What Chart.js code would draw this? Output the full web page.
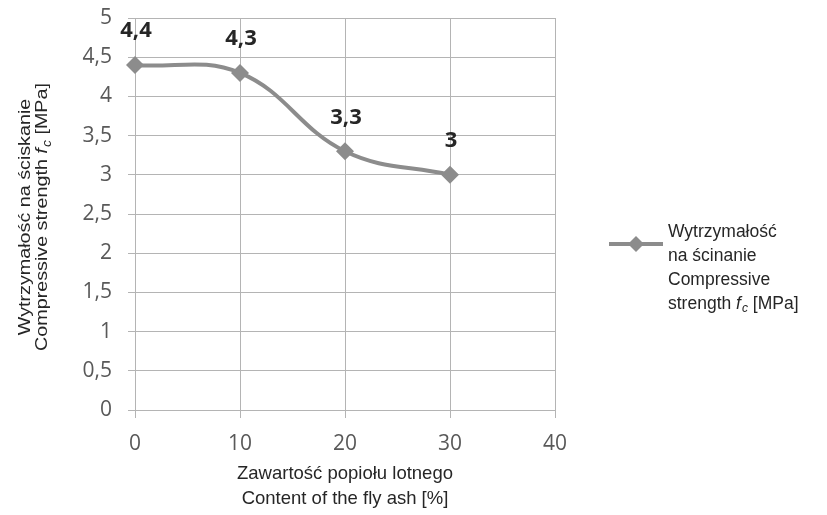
<!DOCTYPE html>
<html>
<head>
<meta charset="utf-8">
<script src="https://cdn.jsdelivr.net/npm/chart.js@4/dist/chart.umd.min.js"></script>
<style>
html,body{margin:0;padding:0;background:#fff;}
#wrap{width:827px;height:515px;}
</style>
</head>
<body>
<div id="wrap"><canvas id="c" width="827" height="515"></canvas></div>
<script>
const ashContent = [0, 10, 20, 30];
const strength = [4.4, 4.3, 3.3, 3];
const xTicks = [0, 10, 20, 30, 40];
const yTicks = [0, 0.5, 1, 1.5, 2, 2.5, 3, 3.5, 4, 4.5, 5];
const seriesName = ['Wytrzymałość', 'na ścinanie', 'Compressive', 'strength f_c [MPa]'];
const yTitle = ['Wytrzymałość na ściskanie', 'Compressive strength f_c [MPa]'];
const xTitle = ['Zawartość popiołu lotnego', 'Content of the fly ash [%]'];

const LINE = '#8c8c8c';
const GRID = '#b4b4b4';
const TXT = '#262626';
const TFONT = '"Liberation Sans", Arial, sans-serif';

function fmt(v){ return String(v).replace('.', ','); }

function segs(str){
  const out = [];
  const i = str.indexOf('f_c');
  if (i < 0) { out.push({t:str}); return out; }
  out.push({t:str.slice(0,i)});
  out.push({t:'f', it:true});
  out.push({t:'c', it:true, sub:true});
  out.push({t:str.slice(i+3)});
  return out;
}
function fontFor(s, size){
  const sz = s.sub ? Math.round(size*0.7) : size;
  return (s.it ? 'italic ' : '') + sz + 'px ' + TFONT;
}
function richWidth(ctx, parts, size){
  let w = 0;
  for (const s of parts){ ctx.font = fontFor(s,size); w += ctx.measureText(s.t).width + (s.it && !s.sub ? 1 : 0); }
  return w;
}
function drawRich(ctx, str, x, y, size, align){
  const parts = segs(str);
  const w = richWidth(ctx, parts, size);
  let cx = align === 'center' ? x - w/2 : x;
  ctx.textAlign = 'left';
  ctx.textBaseline = 'middle';
  for (const s of parts){
    ctx.font = fontFor(s,size);
    ctx.fillText(s.t, cx, y + (s.sub ? size*0.28 : 0));
    cx += ctx.measureText(s.t).width + (s.it && !s.sub ? 1 : 0);
  }
}

const decor = {
  id:'decor',
  afterDraw(chart){
    const ctx = chart.ctx;
    const ca = chart.chartArea;
    const meta = chart.getDatasetMeta(0);
    ctx.save();
    ctx.fillStyle = TXT;
    ctx.font = 'bold 22px "Open Sans", sans-serif';
    ctx.textAlign = 'center';
    ctx.textBaseline = 'middle';
    meta.data.forEach((pt, i) => {
      ctx.fillText(fmt(strength[i]), pt.x + 1, pt.y - 34);
    });
    ctx.save();
    ctx.translate(0, 217);
    ctx.rotate(-Math.PI/2);
    ctx.scale(1.16, 1);
    drawRich(ctx, yTitle[0], 0, 25, 17, 'center');
    drawRich(ctx, yTitle[1], 0, 42.5, 17, 'center');
    ctx.restore();
    const xc = (ca.left + ca.right)/2;
    drawRich(ctx, xTitle[0], xc, 474, 18.5, 'center');
    drawRich(ctx, xTitle[1], xc, 499, 18.5, 'center');
    const ly = 244;
    ctx.strokeStyle = LINE;
    ctx.lineWidth = 4;
    ctx.beginPath(); ctx.moveTo(609, ly); ctx.lineTo(663, ly); ctx.stroke();
    ctx.fillStyle = LINE;
    ctx.beginPath();
    ctx.moveTo(636, ly-8); ctx.lineTo(644, ly); ctx.lineTo(636, ly+8); ctx.lineTo(628, ly); ctx.closePath();
    ctx.fill();
    ctx.fillStyle = TXT;
    seriesName.forEach((s, i) => drawRich(ctx, s, 668, 232 + i*24, 17.5, 'left'));
    ctx.restore();
  }
};

new Chart(document.getElementById('c'), {
  type: 'line',
  data: {
    datasets: [{
      label: seriesName.join(' '),
      data: ashContent.map((x, i) => ({x, y: strength[i]})),
      borderColor: LINE,
      backgroundColor: LINE,
      borderWidth: 4,
      tension: 0.4,
      pointStyle: 'rectRot',
      pointRadius: 9,
      pointBackgroundColor: LINE,
      pointBorderColor: LINE,
      pointBorderWidth: 0,
      fill: false,
      clip: false
    }]
  },
  options: {
    responsive: false,
    devicePixelRatio: 1,
    animation: false,
    layout: { padding: { left: 0, right: 272, top: 18, bottom: 0 } },
    plugins: { legend: { display: false }, tooltip: { enabled: false } },
    scales: {
      x: {
        type: 'linear', min: 0, max: 40,
        afterBuildTicks(s){ s.ticks = xTicks.map(v => ({value: v})); },
        afterFit(s){ s.height = 105; s.paddingLeft = 0; s.paddingRight = 0; },
        grid: { color: GRID, lineWidth: 1, tickLength: 8, drawTicks: true },
        border: { color: GRID, width: 1 },
        ticks: { color: '#595959', font: { family: '"Open Sans", sans-serif', size: 21 }, padding: 13, callback: v => fmt(v) }
      },
      y: {
        type: 'linear', min: 0, max: 5,
        afterBuildTicks(s){ s.ticks = yTicks.map(v => ({value: v})); },
        afterFit(s){ s.width = 135; s.paddingTop = 0; s.paddingBottom = 0; },
        grid: { color: GRID, lineWidth: 1, tickLength: 7 },
        border: { color: GRID, width: 1 },
        ticks: { color: '#595959', font: { family: '"Open Sans", sans-serif', size: 21 }, padding: 16, callback: v => fmt(v) }
      }
    }
  },
  plugins: [decor]
});
</script>
</body>
</html>
